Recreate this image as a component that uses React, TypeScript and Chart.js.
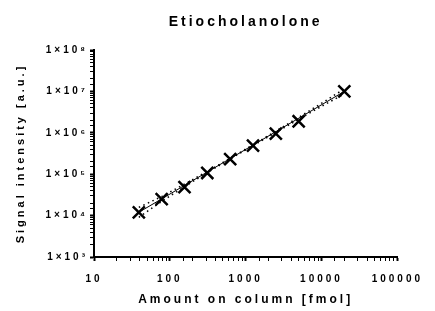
import { useEffect, useRef } from 'react';
import Chart from 'chart.js/auto';

const amountFmol = [39, 78, 156, 312, 625, 1250, 2500, 5000, 20000];
const signal = [1.2e4, 2.5e4, 4.9e4, 1.07e5, 2.3e5, 4.9e5, 9.6e5, 1.9e6, 1.0e7];
const fitX = [39, 20000];
const fitY = [1.2e4, 1.0e7];
const bandX = [39, 80, 160, 320, 640, 1280, 2560, 5120, 10240, 20000];
const bandUpper = [1.58e4, 2.95e4, 5.9e4, 1.2e5, 2.5e5, 5.25e5, 1.13e6, 2.42e6, 5.3e6, 1.15e7];
const bandLower = [9.1e3, 2.27e4, 5.15e4, 1.12e5, 2.4e5, 5.05e5, 1.05e6, 2.18e6, 4.46e6, 8.7e6];
const xTickValues = [10, 100, 1000, 10000, 100000];
const xTickLabels = ['10', '100', '1000', '10000', '100000'];
const yTickValues = [1e3, 1e4, 1e5, 1e6, 1e7, 1e8];
const yTickLabels = ['1×10³', '1×10⁴', '1×10⁵', '1×10⁶', '1×10⁷', '1×10⁸'];

const FONT = '"Liberation Sans", Arial, sans-serif';

const findLabel = (values: number[], labels: string[], v: number) => {
  const i = values.findIndex((t) => Math.abs(t - v) / t < 1e-6);
  return i >= 0 ? labels[i] : '';
};
const isMajor = (values: number[], v: number) =>
  values.some((t) => Math.abs(t - v) / t < 1e-6);

const spacingPlugin = {
  id: 'letterSpacing',
  beforeLayout(chart: any) {
    chart.ctx.letterSpacing = '3px';
  },
  beforeDraw(chart: any) {
    chart.ctx.letterSpacing = '3px';
  },
};

export default function App() {
  const ref = useRef<HTMLCanvasElement>(null);
  useEffect(() => {
    document.body.style.margin = '0';
    const ctx = ref.current!;
    const chart = new Chart(ctx, {
      type: 'scatter',
      data: {
        datasets: [
          {
            label: 'data',
            data: amountFmol.map((x, i) => ({ x, y: signal[i] })),
            pointStyle: 'crossRot',
            pointRadius: 8.5,
            pointBorderWidth: 2.5,
            borderColor: '#000',
            backgroundColor: '#000',
            showLine: false,
          },
          {
            label: 'fit',
            data: fitX.map((x, i) => ({ x, y: fitY[i] })),
            showLine: true,
            pointRadius: 0,
            borderColor: '#000',
            borderWidth: 1,
          },
          {
            label: 'upper',
            data: bandX.map((x, i) => ({ x, y: bandUpper[i] })),
            showLine: true,
            pointRadius: 0,
            borderColor: '#000',
            borderWidth: 1.5,
            borderDash: [1.5, 3.5],
          },
          {
            label: 'lower',
            data: bandX.map((x, i) => ({ x, y: bandLower[i] })),
            showLine: true,
            pointRadius: 0,
            borderColor: '#000',
            borderWidth: 1.5,
            borderDash: [1.5, 3.5],
          },
        ],
      },
      options: {
        animation: false,
        responsive: false,
        layout: { padding: { left: 0, right: 29, top: 0, bottom: 0 } },
        plugins: {
          legend: { display: false },
          tooltip: { enabled: false },
          title: {
            display: true,
            text: 'Etiocholanolone',
            fullSize: false,
            color: '#000',
            font: { family: FONT, size: 14, weight: 'bold' },
            padding: { top: 14, bottom: 19.2 },
          },
        },
        scales: {
          x: {
            type: 'logarithmic',
            min: 10,
            max: 100000,
            afterFit: (s: any) => {
              s.height = 54;
            },
            border: { display: true, color: '#000', width: 2 },
            grid: {
              drawOnChartArea: false,
              drawTicks: true,
              tickLength: 4,
              tickColor: '#000',
              tickWidth: (c: any) => (c.tick && isMajor(xTickValues, c.tick.value) ? 2 : 1),
            },
            ticks: {
              autoSkip: false,
              maxRotation: 0,
              padding: 12,
              color: '#000',
              font: { family: FONT, size: 10, weight: 'bold' },
              callback: (v: any) => findLabel(xTickValues, xTickLabels, Number(v)),
            },
            title: {
              display: true,
              text: 'Amount on column [fmol]',
              color: '#000',
              font: { family: FONT, size: 12, weight: 'bold' },
              padding: { top: 0, bottom: 4 },
            },
          },
          y: {
            type: 'logarithmic',
            min: 1e3,
            max: 1e8,
            afterFit: (s: any) => {
              s.width = 94;
            },
            border: { display: true, color: '#000', width: 2 },
            grid: {
              drawOnChartArea: false,
              drawTicks: true,
              tickLength: 4,
              tickColor: '#000',
              tickWidth: (c: any) => (c.tick && isMajor(yTickValues, c.tick.value) ? 2 : 1),
            },
            ticks: {
              autoSkip: false,
              padding: 2,
              color: '#000',
              font: { family: FONT, size: 10, weight: 'bold' },
              callback: (v: any) => findLabel(yTickValues, yTickLabels, Number(v)),
            },
            title: {
              display: true,
              text: 'Signal intensity [a.u.]',
              color: '#000',
              font: { family: FONT, size: 11, weight: 'bold' },
              padding: { top: 14, bottom: 0 },
            },
          },
        },
      },
      plugins: [spacingPlugin],
    });
    return () => chart.destroy();
  }, []);
  return (
    <div style={{ width: 435, height: 311 }}>
      <canvas ref={ref} width={435} height={311} />
    </div>
  );
}
